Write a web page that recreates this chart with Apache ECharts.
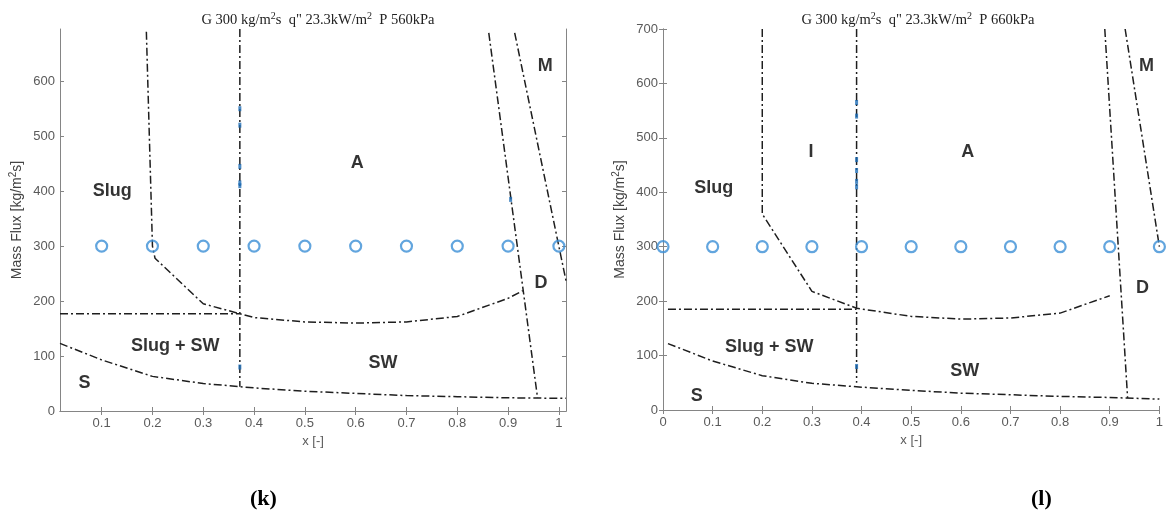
<!DOCTYPE html>
<html>
<head>
<meta charset="utf-8">
<script src="https://cdn.jsdelivr.net/npm/echarts@6/dist/echarts.min.js"></script>
<style>
  html, body { margin: 0; padding: 0; background: #fff; }
  #chart { width: 1166px; height: 524px; }
</style>
</head>
<body>
<div id="chart"></div>
<script>
// ---- Panel (k): P = 560 kPa ----
const kTitle = 'P 560kPa';
const kCircleX = [0.1, 0.2, 0.3, 0.4, 0.5, 0.6, 0.7, 0.8, 0.9, 1.0];
const kCircleY = [300, 300, 300, 300, 300, 300, 300, 300, 300, 300];
const kSlugBound = [[0.188, 690], [0.2, 300], [0.205, 278], [0.3, 195], [0.372, 177], [0.4, 170], [0.5, 162], [0.6, 160], [0.7, 162], [0.8, 172], [0.9, 205], [0.929, 219]];
const kSlugSwBound = [[0.018, 177], [0.372, 177]];
const kIntermittentBound = [[0.372, 695], [0.372, 44]];
const kStratBound = [[0.018, 123], [0.1, 93], [0.2, 63], [0.3, 50], [0.4, 42], [0.5, 36], [0.6, 32], [0.7, 28], [0.8, 26], [0.9, 24], [1.014, 23]];
const kDryoutBound = [[0.862, 688], [0.958, 24]];
const kMistBound = [[0.913, 688], [1.014, 237]];
const kDots = [[0.372, 550], [0.372, 520], [0.372, 445], [0.372, 415], [0.372, 410], [0.372, 80], [0.905, 385]];
const kRegions = [['M', 0.973, 628], ['A', 0.603, 451], ['Slug', 0.121, 400], ['D', 0.965, 232], ['Slug + SW', 0.245, 119], ['SW', 0.654, 88], ['S', 0.066, 51]];

// ---- Panel (l): P = 660 kPa ----
const lTitle = 'P 660kPa';
const lCircleX = [0, 0.1, 0.2, 0.3, 0.4, 0.5, 0.6, 0.7, 0.8, 0.9, 1.0];
const lCircleY = [300, 300, 300, 300, 300, 300, 300, 300, 300, 300, 300];
const lSlugBound = [[0.2, 700], [0.2, 360], [0.3, 218], [0.39, 187], [0.5, 172], [0.6, 167], [0.7, 169], [0.8, 178], [0.9, 210]];
const lSlugSwBound = [[0.01, 185], [0.39, 185]];
const lIntermittentBound = [[0.39, 700], [0.39, 50]];
const lStratBound = [[0.01, 122], [0.1, 90], [0.2, 63], [0.3, 49], [0.4, 42], [0.5, 36], [0.6, 31], [0.7, 28], [0.8, 25], [0.9, 23], [1.0, 20]];
const lDryoutBound = [[0.89, 700], [0.936, 22]];
const lMistBound = [[0.931, 700], [1.0, 300]];
const lDots = [[0.39, 565], [0.39, 540], [0.39, 460], [0.39, 440], [0.39, 420], [0.39, 410], [0.39, 80]];
const lRegions = [['M', 0.974, 632], ['I', 0.298, 474], ['A', 0.614, 474], ['Slug', 0.102, 408], ['D', 0.966, 224], ['Slug + SW', 0.214, 116], ['SW', 0.608, 72], ['S', 0.068, 26]];

// ---- Axis ticks ----
const xTicks = [0.1, 0.2, 0.3, 0.4, 0.5, 0.6, 0.7, 0.8, 0.9, 1.0];
const xTicksFull = [0, 0.1, 0.2, 0.3, 0.4, 0.5, 0.6, 0.7, 0.8, 0.9, 1.0];
const kYTicks = [0, 100, 200, 300, 400, 500, 600];
const lYTicks = [0, 100, 200, 300, 400, 500, 600, 700];

const AXIS_GRAY = '#858585';
const LABEL_GRAY = '#5a5a5a';
const LINE_DARK = '#1e1e1e';
const CIRCLE_BLUE = '#3b8fd6';
const DASH_DOT = [8, 3, 2, 3];

const sup = { fontSize: 10, verticalAlign: 'top', padding: [0, 0, 8, 0] };

function bottomX(grid, min, max, ticks) {
  return {
    type: 'value', gridIndex: grid, min: min, max: max, position: 'bottom',
    name: 'x [-]', nameLocation: 'middle', nameGap: 22,
    nameTextStyle: { color: LABEL_GRAY, fontFamily: 'Liberation Sans', fontSize: 13 },
    axisLine: { show: true, lineStyle: { color: AXIS_GRAY } },
    axisTick: { show: true, inside: true, length: 4, customValues: ticks, lineStyle: { color: AXIS_GRAY } },
    axisLabel: { customValues: ticks, color: LABEL_GRAY, fontFamily: 'Liberation Sans', fontSize: 13, margin: 6,
      formatter: v => String(Math.round(v * 10) / 10) },
    splitLine: { show: false }
  };
}
function topX(grid, min, max, ticks) {
  return {
    type: 'value', gridIndex: grid, min: min, max: max, position: 'top',
    axisLine: { show: true, lineStyle: { color: AXIS_GRAY } },
    axisTick: { show: true, inside: true, length: 4, customValues: ticks, lineStyle: { color: AXIS_GRAY } },
    axisLabel: { show: false }, splitLine: { show: false }
  };
}
function leftY(grid, max, ticks) {
  return {
    type: 'value', gridIndex: grid, min: 0, max: max, position: 'left',
    name: 'Mass Flux [kg/m{s|2}s]', nameLocation: 'middle', nameGap: 34,
    nameTextStyle: { color: '#444', fontFamily: 'Liberation Sans', fontSize: 14, rich: { s: sup } },
    axisLine: { show: true, lineStyle: { color: AXIS_GRAY } },
    axisTick: { show: true, inside: true, length: 4, customValues: ticks, lineStyle: { color: AXIS_GRAY } },
    axisLabel: { customValues: ticks, color: LABEL_GRAY, fontFamily: 'Liberation Sans', fontSize: 13, margin: 5 },
    splitLine: { show: false }
  };
}
function rightY(grid, max, ticks) {
  return {
    type: 'value', gridIndex: grid, min: 0, max: max, position: 'right',
    axisLine: { show: true, lineStyle: { color: AXIS_GRAY } },
    axisTick: { show: true, inside: true, length: 4, customValues: ticks, lineStyle: { color: AXIS_GRAY } },
    axisLabel: { show: false }, splitLine: { show: false }
  };
}

function boundary(data, xi, yi) {
  return {
    type: 'line', xAxisIndex: xi, yAxisIndex: yi, data: data, showSymbol: false, silent: true,
    lineStyle: { color: LINE_DARK, width: 1.5, type: DASH_DOT }, z: 3
  };
}
function circles(xs, ys, xi, yi) {
  return {
    type: 'scatter', xAxisIndex: xi, yAxisIndex: yi, data: xs.map((x, i) => [x, ys[i]]),
    symbol: 'circle', symbolSize: 11,
    itemStyle: { color: 'rgba(255,255,255,0)', borderColor: CIRCLE_BLUE, borderWidth: 2.2 }, z: 5
  };
}
function dots(data, xi, yi) {
  return {
    type: 'scatter', xAxisIndex: xi, yAxisIndex: yi, data: data,
    symbol: 'rect', symbolSize: [3, 5], itemStyle: { color: '#1e6db5' }, z: 4
  };
}
function regions(list, xi, yi) {
  return {
    type: 'scatter', xAxisIndex: xi, yAxisIndex: yi, symbolSize: 0, silent: true,
    data: list.map(r => ({ name: r[0], value: [r[1], r[2]] })),
    label: { show: true, position: 'inside', formatter: '{b}', color: '#000',
      fontFamily: 'Liberation Sans', fontWeight: 'bold', fontSize: 18 }, z: 6
  };
}

const chart = echarts.init(document.getElementById('chart'), null, { renderer: 'canvas' });

const titleText = p => 'G 300 kg/m{s|2}s  q" 23.3kW/m{s|2}  ' + p;
const titleStyle = { fontFamily: 'Liberation Serif', fontWeight: 'normal', fontSize: 14.5, color: '#222', rich: { s: sup } };

chart.setOption({
  backgroundColor: '#fff',
  animation: false,
  title: [
    { text: titleText(kTitle), left: 313, top: 6, textAlign: 'center', textStyle: titleStyle },
    { text: titleText(lTitle), left: 913, top: 6, textAlign: 'center', textStyle: titleStyle }
  ],
  grid: [
    { left: 60, top: 29, width: 506, height: 382, containLabel: false },
    { left: 663, top: 29, width: 500, height: 381, containLabel: false }
  ],
  xAxis: [
    bottomX(0, 0.018, 1.014, xTicks),
    topX(0, 0.018, 1.014, xTicks),
    bottomX(1, 0, 1, xTicksFull),
    topX(1, 0, 1, xTicksFull)
  ],
  yAxis: [
    leftY(0, 695, kYTicks),
    rightY(0, 695, kYTicks),
    leftY(1, 700, lYTicks),
    rightY(1, 700, lYTicks)
  ],
  series: [
    boundary(kSlugBound, 0, 0),
    boundary(kSlugSwBound, 0, 0),
    boundary(kIntermittentBound, 0, 0),
    boundary(kStratBound, 0, 0),
    boundary(kDryoutBound, 0, 0),
    boundary(kMistBound, 0, 0),
    dots(kDots, 0, 0),
    circles(kCircleX, kCircleY, 0, 0),
    regions(kRegions, 0, 0),

    boundary(lSlugBound, 2, 2),
    boundary(lSlugSwBound, 2, 2),
    boundary(lIntermittentBound, 2, 2),
    boundary(lStratBound, 2, 2),
    boundary(lDryoutBound, 2, 2),
    boundary(lMistBound, 2, 2),
    dots(lDots, 2, 2),
    circles(lCircleX, lCircleY, 2, 2),
    regions(lRegions, 2, 2)
  ],
  graphic: [
    { type: 'text', left: 250, top: 488,
      style: { text: '(k)', font: 'bold 22px "Liberation Serif"', fill: '#000' } },
    { type: 'text', left: 1031, top: 488,
      style: { text: '(l)', font: 'bold 22px "Liberation Serif"', fill: '#000' } }
  ]
});
</script>
</body>
</html>
